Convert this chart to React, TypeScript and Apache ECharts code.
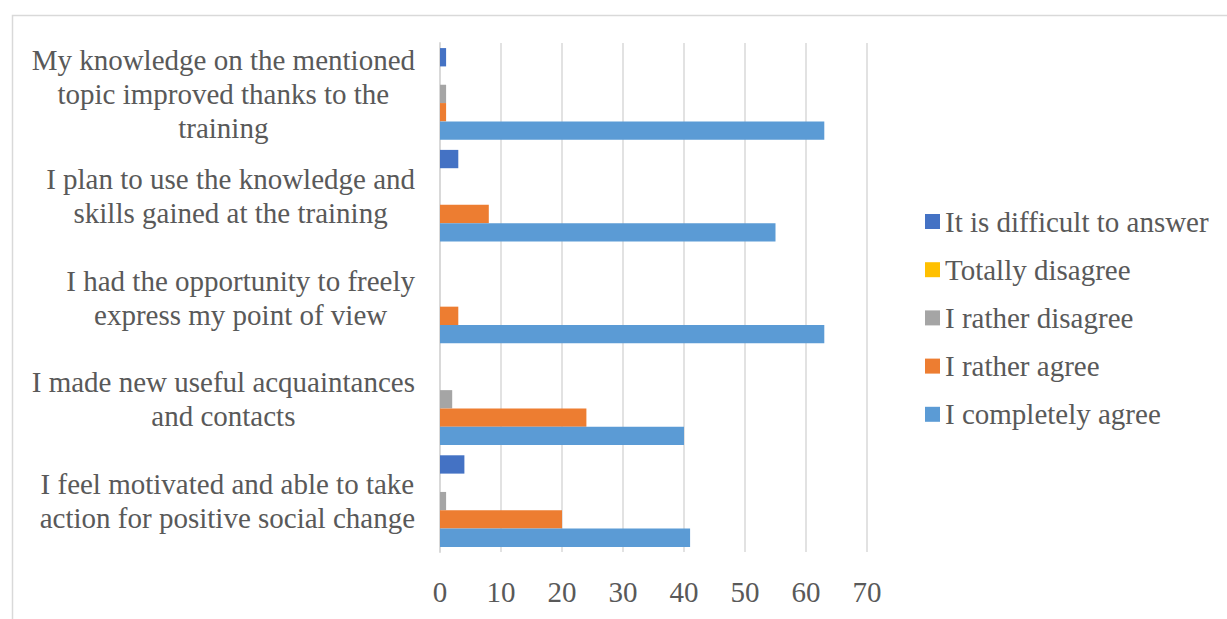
import React, { useEffect, useRef } from "react";
import * as echarts from "echarts";

const categories = [
  "My knowledge on the mentioned\ntopic improved thanks to the\ntraining",
  "I plan to use the knowledge and\nskills gained at the training",
  "I had the opportunity to freely\nexpress my point of view",
  "I made new useful acquaintances\nand contacts",
  "I feel motivated and able to take\naction for positive social change",
];

const seriesNames = [
  "It is difficult to answer",
  "Totally disagree",
  "I rather disagree",
  "I rather agree",
  "I completely agree",
];

const difficult = [1, 3, 0, 0, 4];
const totallyDisagree = [0, 0, 0, 0, 0];
const ratherDisagree = [1, 0, 0, 2, 1];
const ratherAgree = [1, 8, 3, 24, 20];
const completelyAgree = [63, 55, 63, 40, 41];

const colors = ["#4472C4", "#FFC000", "#A5A5A5", "#ED7D31", "#5B9BD5"];
const xTicks = { min: 0, max: 70, interval: 10 };

const FONT = "'Liberation Serif', 'Times New Roman', serif";
const TEXT = "#595959";

export default function App() {
  const ref = useRef<HTMLDivElement>(null);
  useEffect(() => {
    if (!ref.current) return;
    const chart = echarts.init(ref.current, undefined, { renderer: "svg" });
    const data = [difficult, totallyDisagree, ratherDisagree, ratherAgree, completelyAgree];
    chart.setOption({
      animation: false,
      textStyle: { fontFamily: FONT },
      graphic: [
        {
          type: "rect",
          left: 10,
          top: 13,
          shape: { width: 1400, height: 800 },
          style: { fill: "none", stroke: "#d9d9d9", lineWidth: 1.5 },
          silent: true,
        },
      ],
      grid: { left: 440, right: 360, top: 43, bottom: 67, containLabel: false },
      legend: {
        orient: "vertical",
        left: 925,
        top: 207,
        padding: 0,
        icon: "rect",
        itemWidth: 15,
        itemHeight: 15,
        itemGap: 19.2,
        data: seriesNames,
        textStyle: { fontSize: 29, lineHeight: 29, color: TEXT, fontFamily: FONT },
      },
      xAxis: {
        type: "value",
        min: xTicks.min,
        max: xTicks.max,
        interval: xTicks.interval,
        axisLine: { show: false },
        axisTick: { show: false },
        splitLine: { lineStyle: { color: "#d9d9d9", width: 1.5 } },
        axisLabel: { fontSize: 29, color: TEXT, margin: 25, fontFamily: FONT },
      },
      yAxis: {
        type: "category",
        inverse: true,
        data: categories,
        axisLine: { show: true, lineStyle: { color: "#d9d9d9", width: 2 } },
        axisTick: { show: false },
        axisLabel: {
          margin: 25,
          align: "right",
          fontSize: 29,
          lineHeight: 34,
          color: TEXT,
          fontFamily: FONT,
          formatter: (v: string) =>
            v
              .split("\n")
              .map((l) => `{c|${l}}`)
              .join("\n"),
          rich: {
            c: { align: "center", fontSize: 29, lineHeight: 34, color: TEXT, fontFamily: FONT },
          },
        },
      },
      series: seriesNames.map((name, i) => ({
        name,
        type: "bar",
        data: data[i],
        barGap: "0%",
        barCategoryGap: "10%",
        itemStyle: { color: colors[i] },
      })),
    });
    return () => chart.dispose();
  }, []);
  return (
    <div
      ref={ref}
      style={{ position: "fixed", left: 0, top: 0, width: 1227, height: 619, background: "#fff" }}
    />
  );
}
